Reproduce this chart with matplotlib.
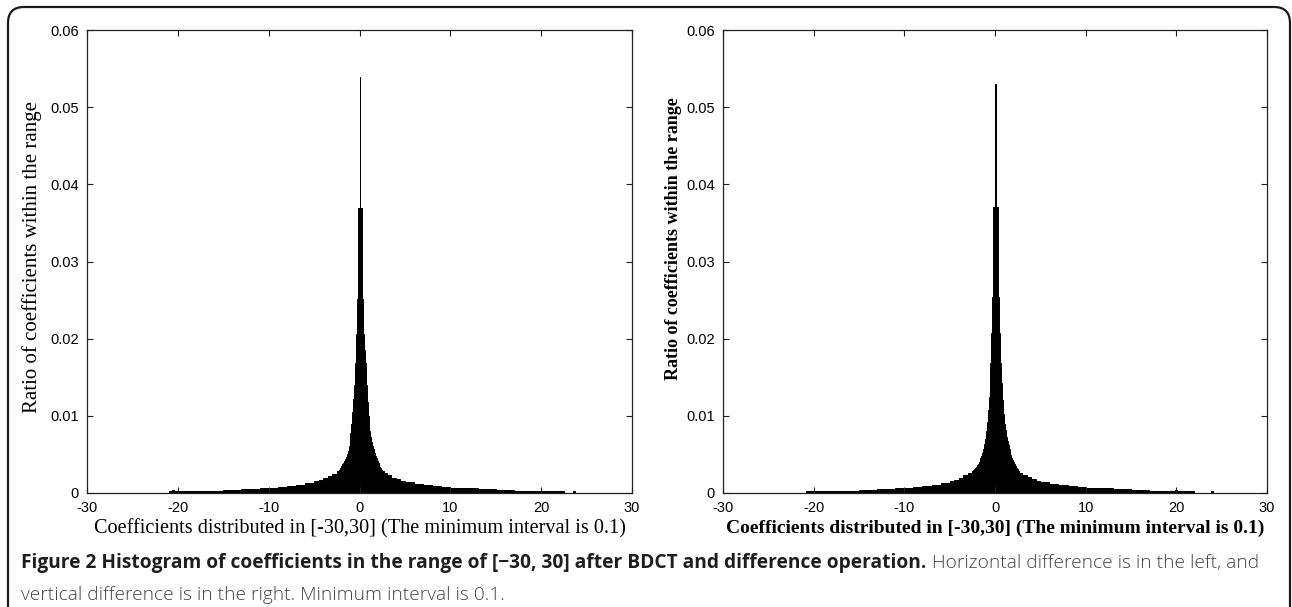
import numpy as np
import matplotlib
matplotlib.use("Agg")
from matplotlib import pyplot as plt
from matplotlib import patches, transforms

plt.rcParams['axes.unicode_minus'] = False

# ---- data (ratio of coefficients per bin) ----
x_ticks = [-30, -20, -10, 0, 10, 20, 30]
x_tick_labels = ['-30', '-20', '-10', '0', '10', '20', '30']
y_ticks = [0, 0.01, 0.02, 0.03, 0.04, 0.05, 0.06]
y_tick_labels = ['0', '0.01', '0.02', '0.03', '0.04', '0.05', '0.06']

# fine 0.1-wide bins around the peak
fine_edges = np.round(np.arange(-2.5, 2.75, 0.1), 1)

# horizontal difference (left panel)
left_tail_neg_edges = [-30, -21, -20.6, -20.4, -20, -16, -15, -13, -11, -9, -8, -7, -6, -5, -4.5, -4, -3.5, -3]
left_tail_neg = [0, 0.0002, 0.0004, 0.0002, 0.0002, 0.0003, 0.00045, 0.00055, 0.0007, 0.0008, 0.0009,
                 0.0011, 0.0013, 0.0015, 0.0017, 0.0019, 0.0022, 0.0025]
left_fine = [0.0028, 0.0029, 0.0030, 0.0031, 0.0033, 0.0035, 0.0037, 0.0039, 0.0041, 0.0044,
             0.0047, 0.0051, 0.0055, 0.0061, 0.0068, 0.0078, 0.0090, 0.0105, 0.0122, 0.0140,
             0.0168, 0.0206, 0.0252, 0.0369, 0.0369, 0.0539, 0.0369, 0.0369, 0.0252, 0.0206,
             0.0185, 0.0168, 0.0140, 0.0118, 0.0100, 0.0088, 0.0080, 0.0072, 0.0066, 0.0061,
             0.0057, 0.0052, 0.0048, 0.0045, 0.0042, 0.0039, 0.0036, 0.0034, 0.0032, 0.0030,
             0.0029, 0.0028]
left_tail_pos_edges = [3, 3.5, 4, 4.5, 5, 6, 7, 8, 9, 10, 11, 13, 15, 17, 20, 22.5, 23.5, 23.7, 30]
left_tail_pos = [0.0026, 0.0023, 0.0020, 0.0018, 0.0016, 0.0014, 0.0012, 0.0010, 0.0009, 0.0008,
                 0.0007, 0.0006, 0.0005, 0.0004, 0.00025, 0.0002, 0, 0.0003, 0]

# vertical difference (right panel)
right_tail_neg_edges = [-30, -20.8, -20.3, -15, -13, -11, -9, -8, -7, -6, -5, -4.5, -4, -3.5, -3]
right_tail_neg = [0, 0.0003, 0.0002, 0.0004, 0.0005, 0.00065, 0.0008, 0.0009, 0.0011, 0.0013,
                  0.0015, 0.0017, 0.0020, 0.0023, 0.0026]
right_fine = [0.0029, 0.0030, 0.0031, 0.0032, 0.0034, 0.0036, 0.0038, 0.0040, 0.0042, 0.0045,
              0.0048, 0.0052, 0.0057, 0.0063, 0.0070, 0.0080, 0.0092, 0.0107, 0.0124, 0.0142,
              0.0168, 0.0207, 0.0254, 0.0370, 0.0370, 0.0530, 0.0370, 0.0370, 0.0254, 0.0207,
              0.0186, 0.0168, 0.0142, 0.0120, 0.0102, 0.0090, 0.0081, 0.0073, 0.0067, 0.0062,
              0.0057, 0.0053, 0.0049, 0.0046, 0.0043, 0.0040, 0.0037, 0.0035, 0.0033, 0.0031,
              0.0029, 0.0028]
right_tail_pos_edges = [3, 3.5, 4, 4.5, 5, 6, 7, 8, 9, 10, 11, 13, 15, 17, 19.8, 20.1, 22, 23.8, 24, 30]
right_tail_pos = [0.0026, 0.0023, 0.0021, 0.0018, 0.0016, 0.0014, 0.0012, 0.0011, 0.0009, 0.0008,
                  0.0007, 0.0006, 0.0005, 0.0004, 0.00025, 0.0004, 0.0002, 0, 0.0003, 0]

ylabel = "Ratio of coefficients within the range"
xlabel = "Coefficients distributed in [-30,30] (The minimum interval is 0.1)"
cap_bold = "Figure 2 Histogram of coefficients in the range of [\u221230, 30] after BDCT and difference operation."
cap_rest = "Horizontal difference is in the left, and"
cap_line2 = "vertical difference is in the right. Minimum interval is 0.1."


def build(neg_edges, neg, fine, pos_edges, pos):
    edges = list(neg_edges) + list(fine_edges) + list(pos_edges)
    heights = list(neg) + list(fine) + list(pos)
    return np.array(edges), np.array(heights)


W, H = 1292, 607
fig = plt.figure(figsize=(W / 100, H / 100), dpi=100)

ax1 = fig.add_axes([87 / W, 114 / H, 545 / W, 463 / H])
ax2 = fig.add_axes([723 / W, 114 / H, 544 / W, 463 / H])

e1, h1 = build(left_tail_neg_edges, left_tail_neg, left_fine, left_tail_pos_edges, left_tail_pos)
e2, h2 = build(right_tail_neg_edges, right_tail_neg, right_fine, right_tail_pos_edges, right_tail_pos)

ax1.stairs(h1, e1, fill=True, facecolor='black', edgecolor='black', lw=0.7)
ax2.stairs(h2, e2, fill=True, facecolor='black', edgecolor='black', lw=0.7)

for ax in (ax1, ax2):
    ax.set_xlim(-30, 30)
    ax.set_ylim(0, 0.06)
    ax.set_xticks(x_ticks)
    ax.set_xticklabels(x_tick_labels, family='Liberation Sans', fontsize=10.5)
    ax.set_yticks(y_ticks)
    ax.set_yticklabels(y_tick_labels, family='Liberation Sans', fontsize=10.5)
    ax.tick_params(direction='in', length=4, width=0.8, top=True, right=True,
                   color='#222222', pad=6)
    for s in ax.spines.values():
        s.set_linewidth(0.9)
        s.set_color('#222222')

ax1.set_ylabel(ylabel, family='Liberation Serif', fontsize=15)
ax1.yaxis.set_label_coords(-0.083, 0.51)
ax1.set_xlabel(xlabel, family='Liberation Serif', fontsize=14.6, labelpad=3)
ax2.set_ylabel(ylabel, family='Liberation Serif', fontweight='bold', fontsize=13)
ax2.yaxis.set_label_coords(-0.076, 0.55)
ax2.set_xlabel(xlabel, family='Liberation Serif', fontweight='bold', fontsize=14, labelpad=3)

# caption
cap_size = 13.8
t1 = fig.text(21 / W, (H - 563) / H, cap_bold, family='Open Sans', fontweight='bold',
              fontsize=cap_size, color='#1e1e1e', va='center')
fig.canvas.draw()
bb = t1.get_window_extent(fig.canvas.get_renderer())
fig.text((bb.x1 + 6) / W, (H - 563) / H, cap_rest, family='Open Sans', fontweight='light',
         fontsize=cap_size, color='#444444', va='center')
fig.text(21 / W, (H - 595) / H, cap_line2, family='Open Sans', fontweight='light',
         fontsize=cap_size, color='#444444', va='center')

# rounded frame around the figure panel
frame = patches.FancyBboxPatch((8, -20), 1282, H - 7 + 20,
                               boxstyle="round,pad=0,rounding_size=16",
                               transform=transforms.IdentityTransform(),
                               fill=False, ec='#1a1a1a', lw=1.6)
fig.patches.append(frame)

fig.savefig('out.png', dpi=100)
